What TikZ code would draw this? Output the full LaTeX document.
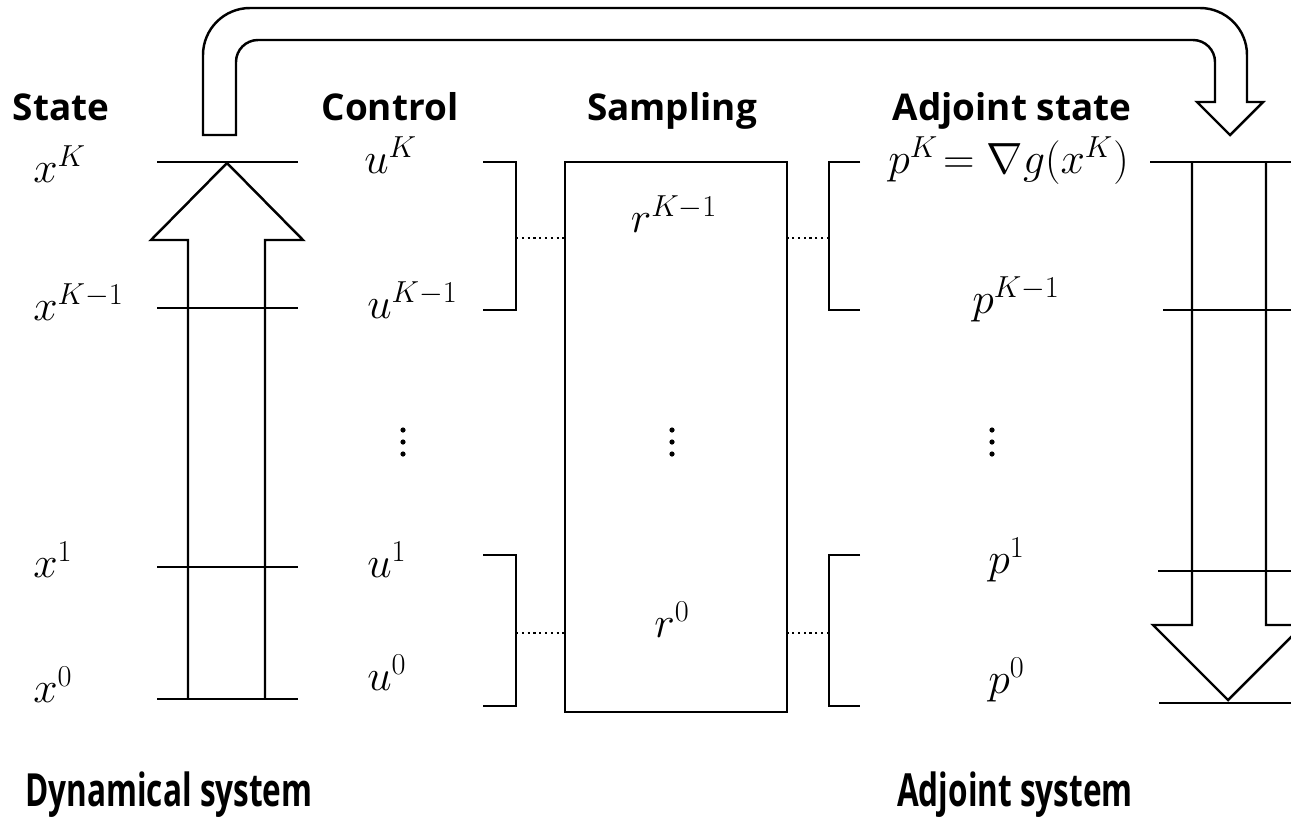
\documentclass[tikz,border=0pt]{standalone}
\usepackage{amsmath, amssymb}
\usepackage{fontspec}
\setsansfont{Open Sans}[BoldFont={Open Sans Bold}]
\usetikzlibrary{calc}
\tikzstyle{level}=[line width=1.4pt]
\tikzstyle{flow}=[line width=1.4pt, line join=miter]
\tikzstyle{link}=[line width=1.3pt, dotted]
\tikzstyle{head}=[font=\sffamily\bfseries\fontsize{21}{26}\selectfont, anchor=base, inner sep=0pt]
\tikzstyle{title}=[font=\sffamily\bfseries\fontsize{26}{32}\selectfont, anchor=base, inner sep=0pt]
\tikzstyle{var}=[font=\fontsize{24}{28}\selectfont, anchor=base west, inner sep=0pt]
\tikzstyle{dot}=[fill=black]

\begin{document}
\begin{tikzpicture}[x=0.02cm, y=-0.02cm]
	\clip (0,0) rectangle (1291,819);

	% Column headers
	\node[head] (hstate) at (61,120) {State};
	\node[head] (hctrl) at (390,120) {Control};
	\node[head] (hsamp) at (672,120) {Sampling};
	\node[head] (hadj) at (1012,120) {Adjoint state};

	% Feedback arrow from state to adjoint state
	\draw[flow] (203,135) -- (203,55) arc[start angle=180, end angle=270, radius=47]
		-- (1200,8) arc[start angle=270, end angle=360, radius=47]
		-- (1247,102) -- (1263,102) -- (1230,135) -- (1197,102) -- (1215,102)
		-- (1215,62) arc[start angle=0, end angle=-90, radius=22]
		-- (258,40) arc[start angle=-90, end angle=-180, radius=22]
		-- (236,135) -- cycle;

	% Dynamical system: states and forward arrow
	\draw[flow] (188,699) -- (188,240) -- (151,240) -- (227,163) -- (303,240) -- (265,240) -- (265,699);
	\foreach \y in {162, 308, 567, 699}{ \draw[level] (157,\y) -- (298,\y); }

	\node[var] (xK) at (33,182) {$x^K$};
	\node[var] (xK1) at (33,320) {$x^{K-1}$};
	\node[var] (x1) at (33,577) {$x^1$};
	\node[var] (x0) at (33,702) {$x^0$};

	% Controls
	\node[var] (uK) at (364,173) {$u^K$};
	\node[var] (uK1) at (367,318) {$u^{K-1}$};
	\node[var] (u1) at (367,577) {$u^1$};
	\node[var] (u0) at (367,690) {$u^0$};

	\draw[level] (483,162) -- (516,162) -- (516,310) -- (483,310);
	\draw[level] (483,555) -- (516,555) -- (516,706) -- (483,706);
	\coordinate (ltop) at (516,238);
	\coordinate (lbot) at (516,633);

	% Sampling
	\node[draw, line width=1.4pt, minimum width=4.44cm, minimum height=11cm, inner sep=0pt] (samp) at (676,437) {};
	\node[var, anchor=base] (rK1) at (674,232) {$r^{K-1}$};
	\node[var, anchor=base] (r0) at (672,637) {$r^0$};

	\draw[level] (860,162) -- (829,162) -- (829,310) -- (860,310);
	\draw[level] (860,555) -- (829,555) -- (829,706) -- (860,706);
	\coordinate (rtop) at (829,238);
	\coordinate (rbot) at (829,633);

	\draw[link] (ltop) -- (ltop -| samp.west);
	\draw[link] (lbot) -- (lbot -| samp.west);
	\draw[link] (rtop) -- (rtop -| samp.east);
	\draw[link] (rbot) -- (rbot -| samp.east);

	% Adjoint states
	\node[var] (pK) at (888,173) {$p^K\!= \nabla g(x^K)$};
	\node[var] (pK1) at (972,313) {$p^{K-1}$};
	\node[var] (p1) at (988,573) {$p^1$};
	\node[var] (p0) at (988,693) {$p^0$};

	% Vertical ellipses
	\foreach \x in {403, 672, 992}{
		\foreach \y in {430, 442, 454}{
			\fill[dot] (\x,\y) circle (2.6);
		}
	}

	% Adjoint system: backward arrow
	\draw[flow] (1192,162) -- (1192,625) -- (1153,625) -- (1228,700) -- (1303,625) -- (1266,625) -- (1266,162);
	\draw[level] (1150,162) -- (1291,162);
	\draw[level] (1163,310) -- (1291,310);
	\draw[level] (1158,571) -- (1291,571);
	\draw[level] (1159,703) -- (1291,703);

	% System titles
	\node[title] (tdyn) at (169,806) {\scalebox{0.69}[1]{Dynamical system}};
	\node[title] (tadj) at (1015,806) {\scalebox{0.69}[1]{Adjoint system}};
\end{tikzpicture}
\end{document}
